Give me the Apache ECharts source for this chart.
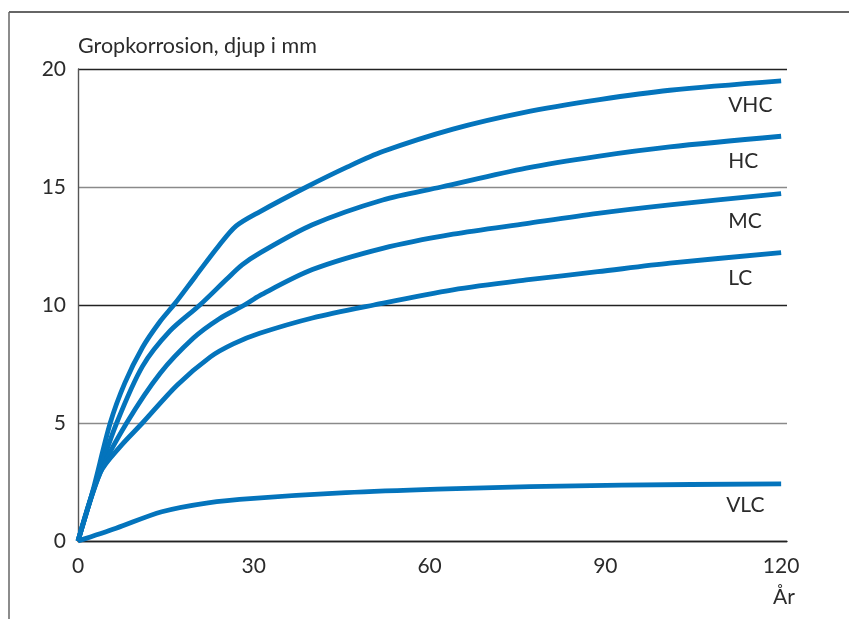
<!DOCTYPE html>
<html>
<head>
<meta charset="utf-8">
<style>
  html, body { margin: 0; padding: 0; background: #ffffff; }
  #chart { width: 849px; height: 619px; }
</style>
<script src="https://cdn.jsdelivr.net/npm/echarts@6/dist/echarts.min.js"></script>
</head>
<body>
<div id="chart"></div>
<script>
// ---- Data (years, depth in mm) ----
const seriesNames = ['VHC', 'HC', 'MC', 'LC', 'VLC'];
const vhcData = [[0,0],[2.5,2.1],[5.5,5.0],[8,6.7],[11,8.2],[14,9.3],[16.5,10.05],[20,11.2],[24,12.5],[27,13.35],[31,13.95],[39,15.0],[46,15.85],[52,16.5],[64,17.45],[76,18.15],[89,18.7],[101,19.1],[120,19.5]];
const hcData  = [[0,0],[3.2,2.6],[6.6,5.0],[11,7.4],[15.7,8.9],[20.8,10.0],[25.4,11.1],[28,11.7],[31,12.2],[40,13.4],[52,14.45],[62,15.0],[76.5,15.8],[88.7,16.3],[101,16.7],[120,17.15]];
const mcData  = [[0,0],[3.8,2.9],[8.3,5.0],[14,7.1],[19.7,8.6],[24,9.4],[28.4,10.0],[31,10.4],[40,11.5],[52,12.4],[64,13.0],[76.5,13.45],[88.7,13.88],[101,14.24],[120,14.72]];
const lcData  = [[0,0],[3.8,2.9],[7.2,4.0],[11,5.0],[16.9,6.6],[22.6,7.8],[26.5,8.35],[31,8.8],[40,9.45],[50.5,10.0],[64,10.64],[76.5,11.06],[88.7,11.41],[101,11.77],[120,12.22]];
const vlcData = [[0,0],[6.5,0.54],[14.3,1.24],[22.2,1.62],[30,1.81],[45.7,2.05],[61.4,2.2],[77.1,2.3],[92.8,2.37],[120,2.42]];
const xTicks = [0, 30, 60, 90, 120];
const yTicks = [0, 5, 10, 15, 20];
const yAxisTitle = 'Gropkorrosion, djup i mm';
const xAxisTitle = 'År';

const allData = [vhcData, hcData, mcData, lcData, vlcData];
const labelOffsets = [[-53, 24], [-53, 25], [-53, 28], [-53, 26], [-55, 21]];

const FONT = 'Lato';
const TEXT = '#2b2b2b';
const BLUE = '#0474bc';

const chart = echarts.init(document.getElementById('chart'), null, { renderer: 'canvas' });

const option = {
  animation: false,
  backgroundColor: '#ffffff',
  grid: { left: 78, right: 62, top: 69, bottom: 78, containLabel: false },
  xAxis: {
    type: 'value',
    min: 0,
    max: 121,
    interval: 30,
    name: xAxisTitle,
    nameLocation: 'end',
    nameGap: -3,
    nameTextStyle: { fontFamily: FONT, fontSize: 21, color: TEXT, align: 'center', verticalAlign: 'top', padding: [46, 0, 0, 0] },
    axisLine: { show: true, onZero: true, lineStyle: { color: '#222', width: 1.4 } },
    axisTick: { show: false },
    splitLine: { show: false },
    axisLabel: {
      margin: 15,
      fontFamily: FONT, fontSize: 21, color: TEXT,
      formatter: v => (xTicks.indexOf(v) >= 0 ? String(v) : '')
    }
  },
  yAxis: {
    type: 'value',
    min: 0,
    max: 20,
    interval: 5,
    name: yAxisTitle,
    nameLocation: 'end',
    nameGap: 23,
    nameTextStyle: { fontFamily: FONT, fontSize: 21.5, color: TEXT, align: 'left', verticalAlign: 'middle' },
    axisLine: { show: true, lineStyle: { color: '#555', width: 1.4 } },
    axisTick: { show: false },
    axisLabel: {
      margin: 12,
      fontFamily: FONT, fontSize: 21, color: TEXT,
      formatter: v => (yTicks.indexOf(v) >= 0 ? String(v) : '')
    },
    splitLine: { show: true, lineStyle: { color: ['#222', '#8a8a8a'], width: 1.4 } }
  },
  graphic: [
    { type: 'line', shape: { x1: 9, y1: 12, x2: 849, y2: 12 }, style: { stroke: '#666', lineWidth: 2 }, silent: true },
    { type: 'line', shape: { x1: 9, y1: 12, x2: 9, y2: 619 }, style: { stroke: '#666', lineWidth: 1.5 }, silent: true }
  ],
  series: seriesNames.map((name, i) => ({
    name: name,
    type: 'line',
    data: allData[i],
    smooth: 0.3,
    showSymbol: false,
    symbol: 'none',
    lineStyle: { color: BLUE, width: 4.8, cap: 'butt', join: 'round' },
    itemStyle: { color: BLUE },
    z: 3,
    endLabel: {
      show: true,
      formatter: name,
      distance: 0,
      align: 'left',
      verticalAlign: 'middle',
      offset: labelOffsets[i],
      fontFamily: FONT,
      fontSize: 21,
      color: TEXT
    }
  }))
};

chart.setOption(option);
</script>
</body>
</html>
